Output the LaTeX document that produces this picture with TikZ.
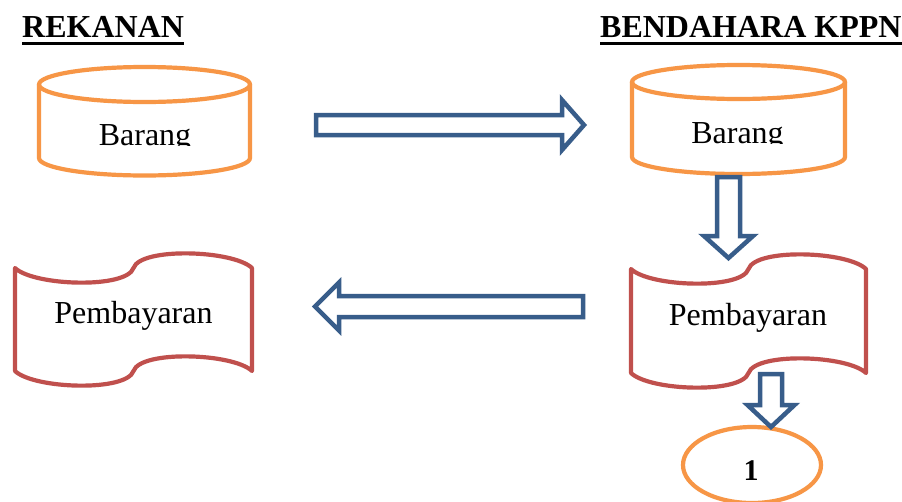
\documentclass[tikz,border=0pt]{standalone}
\usepackage{fontspec}
\setmainfont{Liberation Serif}
\usetikzlibrary{calc}
\definecolor{orng}{HTML}{F79646}
\definecolor{redd}{HTML}{C0504D}
\definecolor{bluu}{HTML}{385D8A}
\tikzset{
  cylline/.style={draw=orng, line width=4.2pt},
  tapeline/.style={draw=redd, line width=4.2pt, line join=round},
  arrowline/.style={draw=bluu, line width=4.5pt, line join=miter},
  lbl/.style={font=\fontsize{32}{36}\selectfont, inner sep=0pt, anchor=base},
  ttl/.style={font=\fontsize{32}{36}\selectfont\bfseries, inner sep=0pt, anchor=base west},
}
% cylinder: #1 cx, #2 rx, #3 y top-centre, #4 y bottom-centre, #5 ry
\newcommand\mycyl[5]{%
  \draw[cylline] (#1,#3) ellipse [x radius=#2pt, y radius=#5pt];
  \draw[cylline] ({#1-#2},#3) -- ({#1-#2},#4)
     arc[start angle=180, end angle=360, x radius=#2pt, y radius=#5pt] -- ({#1+#2},#3);
}
% tape: #1 x0, #2 x1, #3 y top, #4 y bottom
\newcommand\mytape[4]{%
  \draw[tapeline]
    (#1,#3) .. controls ({#1+0.08*(#2-#1)},{#3+18}) and ({(#1+#2)/2-0.03*(#2-#1)},{#3+21}) .. ({(#1+#2)/2},#3)
            .. controls ({(#1+#2)/2+0.03*(#2-#1)},{#3-21}) and ({#2-0.08*(#2-#1)},{#3-18}) .. (#2,#3)
    -- (#2,#4)
            .. controls ({#2-0.08*(#2-#1)},{#4-18}) and ({(#1+#2)/2+0.03*(#2-#1)},{#4-21}) .. ({(#1+#2)/2},#4)
            .. controls ({(#1+#2)/2-0.03*(#2-#1)},{#4+21}) and ({#1+0.08*(#2-#1)},{#4+18}) .. (#1,#4)
    -- cycle;
}
% block arrow: #1 tail coord, #2 angle, #3 length, #4 head length, #5 shaft half width, #6 head half width
\newcommand\blockarrow[6]{%
  \draw[arrowline, shift={(#1)}, rotate=#2]
    (0,-#5) -- ({#3-#4},-#5) -- ({#3-#4},-#6) -- (#3,0) -- ({#3-#4},#6) -- ({#3-#4},#5) -- (0,#5) -- cycle;
}
\begin{document}
\begin{tikzpicture}[x=1pt,y=-1pt]
\useasboundingbox (0,0) rectangle (902,501);
\fill[white] (0,0) rectangle (902,501);

% titles
\node[ttl] (t1) at (22,37) {REKANAN};
\draw[line width=3pt] ($(t1.base west)+(0,6)$) -- ($(t1.base east)+(0,6)$);
\node[ttl] (t2) at (600,37) {BENDAHARA KPPN};
\draw[line width=3pt] ($(t2.base west)+(0,6)$) -- ($(t2.base east)+(0,6)$);

% cylinders
\mycyl{144.5}{105.5}{84.5}{158}{17.5}
\mycyl{738.5}{106.5}{82}{157}{17}
\begin{scope}
  \clip (40,100) rectangle (250,145.5);
  \node[lbl] (b1) at (145,145.5) {Barang};
\end{scope}
\begin{scope}
  \clip (640,100) rectangle (840,143.5);
  \node[lbl] (b2) at (737.5,143.5) {Barang};
\end{scope}

% tapes
\mytape{15}{252}{268}{371}
\mytape{631}{866}{269}{373}
\node[lbl] (p1) at (133.5,323) {Pembayaran};
\node[lbl] (p2) at (748,325) {Pembayaran};

% ellipse 1
\draw[cylline] (752,465) ellipse [x radius=69pt, y radius=38pt];
\node[lbl, font=\fontsize{30}{34}\selectfont\bfseries] (one) at (751,480) {1};

% block arrows
\coordinate (a1) at (316,125);
\coordinate (a2) at (583,306.5);
\coordinate (a3) at (728.5,177);
\coordinate (a4) at (771,374);
\blockarrow{a1}{0}{268}{22}{10}{25}
\blockarrow{a2}{180}{268}{24}{10.5}{24}
\blockarrow{a3}{-90}{81}{22}{11.5}{24.5}
\blockarrow{a4}{-90}{53}{22}{11}{23.5}
\end{tikzpicture}
\end{document}
